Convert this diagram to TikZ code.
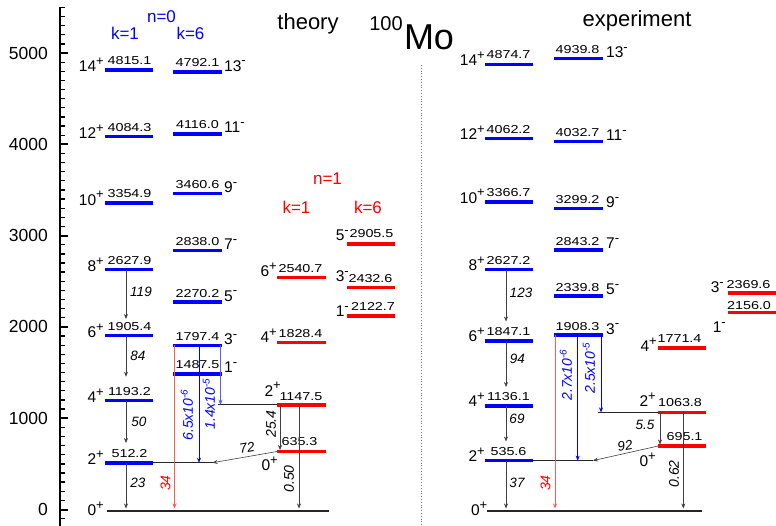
\documentclass[tikz,border=0pt]{standalone}
\usepackage{fontspec}
\setmainfont{Liberation Sans}
\usepackage{graphicx}
\usetikzlibrary{arrows.meta}
\definecolor{myblue}{RGB}{0,0,255}
\definecolor{myred}{RGB}{255,0,0}
\definecolor{lred}{RGB}{255,90,90}
\newcommand\Y[1]{509.5-0.0913*(#1)}
\newcommand\lvn[1]{\scalebox{1.25}[1]{\fontsize{11.5}{13}\selectfont #1}}
\newcommand\spn[2]{#1\raisebox{6.3pt}{\fontsize{13}{13}\selectfont #2}}
\tikzset{
  bbar/.style={line width=3.6pt, draw=myblue},
  rbar/.style={line width=3.6pt, draw=myred},
  gline/.style={line width=1.3pt, draw=black!85},
  tr/.style={draw=black!75, line width=0.6pt, -{Stealth[length=5pt,width=4pt]}},
  trr/.style={draw=lred, line width=0.6pt, -{Stealth[length=5pt,width=4pt]}},
  trb/.style={draw=myblue, line width=0.6pt, -{Stealth[length=5pt,width=4pt]}},
  trlb/.style={draw=myblue!65, line width=0.7pt, -{Stealth[length=5pt,width=4pt]}},
  num/.style={anchor=base, inner sep=0pt},
  spl/.style={anchor=base east, inner sep=0pt, font=\fontsize{15.5}{17}\selectfont},
  spr/.style={anchor=base west, inner sep=0pt, font=\fontsize{15.5}{17}\selectfont},
  tlab/.style={inner sep=0pt, font=\fontsize{13.5}{15}\selectfont\itshape},
  rlab/.style={inner sep=0pt, rotate=90, font=\fontsize{14}{15}\selectfont\itshape},
  big/.style={anchor=base, inner sep=0pt, font=\fontsize{22}{24}\selectfont},
  kl/.style={anchor=base, inner sep=0pt, font=\fontsize{17}{19}\selectfont},
}
\begin{document}
\begin{tikzpicture}[x=1pt,y=-1pt]
\useasboundingbox (0,0) rectangle (776,526);
% axis
\draw[line width=2pt] (60,7) -- (60,526);
\foreach \e in {-100,0,100,...,5500}{
  \draw[line width=1.3pt] (60,{\Y{\e}}) -- (65,{\Y{\e}});
}
\foreach \e in {0,1000,...,5000}{
  \draw[line width=2pt] (60,{\Y{\e}}) -- (68,{\Y{\e}});
  \node[anchor=east, inner sep=0pt, font=\fontsize{17.5}{19}\selectfont] (ax\e) at (48,{\Y{\e}}) {\e};
}
% separator
\coordinate (sepT) at (421,65);
\coordinate (sepB) at (421,526);
\draw[gray, dotted, line width=0.8pt] (sepT) -- (sepB);
% titles
\node[big] (theo) at (308,29.3) {theory};
\node[big] (expt) at (637,26.7) {experiment};
\node[anchor=base, inner sep=0pt, font=\fontsize{20}{22}\selectfont] (amass) at (386,30.5) {100};
\node[anchor=base, inner sep=0pt, font=\fontsize{36}{38}\selectfont] (elem) at (429,50) {Mo};
\node[kl, text=myblue] (n0) at (161.5,22.7) {n=0};
\node[kl, text=myblue] (k1b) at (125,39.3) {k=1};
\node[kl, text=myblue] (k6b) at (190.5,39.3) {k=6};
\node[kl, text=myred] (n1) at (327.5,185) {n=1};
\node[kl, text=myred] (k1r) at (296.5,213.3) {k=1};
\node[kl, text=myred] (k6r) at (368,213.3) {k=6};

% ---------------- theory ----------------
\foreach \E/\J in {4815.1/14, 4084.3/12, 3354.9/10, 2627.9/8, 1905.4/6, 1193.2/4, 512.2/2}{
  \draw[bbar] (105,{\Y{\E}}) -- (153,{\Y{\E}});
  \node[num] (tna\J) at (129.5,{\Y{\E}-5.3}) {\lvn{\E}};
  \node[spl] (tsa\J) at (104,{\Y{\E}+2}) {\spn{\J}{+}};
}
\foreach \E/\J in {4792.1/13, 4116.0/11, 3460.6/9, 2838.0/7, 2270.2/5, 1797.4/3, 1487.5/1}{
  \draw[bbar] (173,{\Y{\E}}) -- (222,{\Y{\E}});
  \node[num] (tnb\J) at (197.5,{\Y{\E}-5.2}) {\lvn{\E}};
  \node[spr] (tsb\J) at (224,{\Y{\E}-1}) {\spn{\J}{-}};
}
% red n=1 k=1
\foreach \E/\J/\dy in {2540.7/6/-1, 1828.4/4/0}{
  \draw[rbar] (277,{\Y{\E}}) -- (326,{\Y{\E}});
  \node[num] (tnc\J) at (300.5,{\Y{\E}-5}) {\lvn{\E}};
  \node[spl] (tsc\J) at (277,{\Y{\E}+\dy}) {\spn{\J}{+}};
}
\draw[rbar] (277,{\Y{1147.5}}) -- (326,{\Y{1147.5}});
\node[num] (tnc2) at (301,400) {\lvn{1147.5}};
\node[spl] (tsc2) at (281,396) {\spn{2}{+}};
\draw[rbar] (277,{\Y{635.3}}) -- (326,{\Y{635.3}});
\node[num] (tnc0) at (299.5,445) {\lvn{635.3}};
\node[spl] (tsc0) at (278,470.7) {\spn{0}{+}};
% red n=1 k=6
\foreach \E/\J/\dy/\dn/\cx in {2905.5/5/-3.5/-6.5/371.5, 2432.6/3/-5.7/-4.7/370.5, 2122.7/1/1/-5/373}{
  \draw[rbar] (347,{\Y{\E}}) -- (395,{\Y{\E}});
  \node[num] (tnd\J) at (\cx,{\Y{\E}+\dn}) {\lvn{\E}};
  \node[spl] (tsd\J) at (349,{\Y{\E}+\dy}) {\spn{\J}{-}};
}
% ground theory
\coordinate (tgL) at (107,511);
\coordinate (tgR) at (329,511);
\draw[gline] (tgL) -- (tgR);
\node[spl] (tsg) at (104,515.7) {\spn{0}{+}};
% extension lines theory
\coordinate (tx2a) at (153,{\Y{512.2}});
\coordinate (tx2b) at (212.5,{\Y{512.2}});
\draw[gline] (tx2a) -- (tx2b);
\coordinate (tx1a) at (218,{\Y{1147.5}});
\coordinate (tx1b) at (277,{\Y{1147.5}});
\draw[gline] (tx1a) -- (tx1b);
% theory transitions
\coordinate (ta1s) at (126,{\Y{2627.9}}); \coordinate (ta1e) at (126,319);
\coordinate (ta2s) at (126,{\Y{1905.4}}); \coordinate (ta2e) at (126,376.7);
\coordinate (ta3s) at (126,{\Y{1193.2}}); \coordinate (ta3e) at (126,443);
\coordinate (ta4s) at (126,{\Y{512.2}});  \coordinate (ta4e) at (126,508.5);
\draw[tr] (ta1s) -- (ta1e);
\draw[tr] (ta2s) -- (ta2e);
\draw[tr] (ta3s) -- (ta3e);
\draw[tr] (ta4s) -- (ta4e);
\node[tlab] (tl119) at (141,291.7) {119};
\node[tlab] (tl84) at (138,356) {84};
\node[tlab] (tl50) at (139,421.7) {50};
\node[tlab] (tl23) at (138,482.7) {23};
\coordinate (tr34s) at (174.5,{\Y{1797.4}}); \coordinate (tr34e) at (174.5,508.5);
\draw[trr] (tr34s) -- (tr34e);
\node[rlab, text=myred] (tl34) at (165.5,483) {34};
\coordinate (tb1s) at (199,{\Y{1797.4}}); \coordinate (tb1e) at (199,{\Y{512.2}});
\draw[trb] (tb1s) -- (tb1e);
\node[rlab, text=myblue] (tl65) at (187,415) {6.5x10\textsuperscript{-6}};
\coordinate (tb2s) at (220.5,{\Y{1797.4}}); \coordinate (tb2e) at (220.5,{\Y{1147.5}});
\draw[trlb] (tb2s) -- (tb2e);
\node[rlab, text=myblue] (tl14) at (209,404) {1.4x10\textsuperscript{-5}};
\coordinate (tc1s) at (280,{\Y{1147.5}}); \coordinate (tc1e) at (280,{\Y{635.3}-1.5});
\draw[tr] (tc1s) -- (tc1e);
\node[rlab] (tl254) at (271,424) {25.4};
\coordinate (tc2s) at (299,{\Y{1147.5}}); \coordinate (tc2e) at (299,508.5);
\draw[tr] (tc2s) -- (tc2e);
\node[rlab] (tl050) at (289,479) {0.50};
\coordinate (tc3s) at (277,{\Y{635.3}});
\draw[tr] (tc3s) -- (tx2b);
\node[tlab, rotate=10] (tl72) at (247,448) {72};

% ---------------- experiment ----------------
\foreach \E/\J in {4874.7/14, 4062.2/12, 3366.7/10, 2627.2/8, 1847.1/6, 1136.1/4, 535.6/2}{
  \draw[bbar] (485,{\Y{\E}}) -- (533,{\Y{\E}});
  \node[num] (ena\J) at (508.5,{\Y{\E}-5.5}) {\lvn{\E}};
  \node[spl] (esa\J) at (485,{\Y{\E}+1}) {\spn{\J}{+}};
}
\foreach \E/\J in {4939.8/13, 4032.7/11, 3299.2/9, 2843.2/7, 2339.8/5, 1908.3/3}{
  \draw[bbar] (554,{\Y{\E}}) -- (603,{\Y{\E}});
  \node[num] (enb\J) at (577.5,{\Y{\E}-4.8}) {\lvn{\E}};
  \node[spr] (esb\J) at (606,{\Y{\E}-1}) {\spn{\J}{-}};
}
% red experiment
\draw[rbar] (658,{\Y{1771.4}}) -- (706,{\Y{1771.4}});
\node[num] (enc4) at (679.5,342.7) {\lvn{1771.4}};
\node[spl] (esc4) at (657,351.7) {\spn{4}{+}};
\draw[rbar] (658,{\Y{1063.8}}) -- (706,{\Y{1063.8}});
\node[num] (enc2) at (680,406.7) {\lvn{1063.8}};
\node[spl] (esc2) at (656,406.7) {\spn{2}{+}};
\draw[rbar] (658,{\Y{695.1}}) -- (706,{\Y{695.1}});
\node[num] (enc0) at (684.5,440) {\lvn{695.1}};
\node[spl] (esc0) at (656,466.7) {\spn{0}{+}};
\draw[rbar] (728,{\Y{2369.6}}) -- (776,{\Y{2369.6}});
\node[num] (end3) at (748.5,288.3) {\lvn{2369.6}};
\node[spl] (esd3) at (724,292.7) {\spn{3}{-}};
\draw[rbar] (728,{\Y{2156.0}}) -- (776,{\Y{2156.0}});
\node[num] (end1) at (749,310) {\lvn{2156.0}};
\node[spl] (esd1) at (726,333) {\spn{1}{-}};
% ground experiment
\coordinate (egL) at (487,511);
\coordinate (egR) at (702,511);
\draw[gline] (egL) -- (egR);
\node[spl] (esg) at (487.5,515.7) {\spn{0}{+}};
% extension lines experiment
\coordinate (ex2a) at (533,{\Y{535.6}});
\coordinate (ex2b) at (593,{\Y{535.6}});
\draw[gline] (ex2a) -- (ex2b);
\coordinate (ex1a) at (598,{\Y{1063.8}});
\coordinate (ex1b) at (658,{\Y{1063.8}});
\draw[gline] (ex1a) -- (ex1b);
% experiment transitions
\coordinate (ea1s) at (506,{\Y{2627.2}}); \coordinate (ea1e) at (506,321.5);
\coordinate (ea2s) at (506,{\Y{1847.1}}); \coordinate (ea2e) at (506,387);
\coordinate (ea3s) at (506,{\Y{1136.1}}); \coordinate (ea3e) at (506,441.5);
\coordinate (ea4s) at (506,{\Y{535.6}});  \coordinate (ea4e) at (506,508.5);
\draw[tr] (ea1s) -- (ea1e);
\draw[tr] (ea2s) -- (ea2e);
\draw[tr] (ea3s) -- (ea3e);
\draw[tr] (ea4s) -- (ea4e);
\node[tlab] (el123) at (521,292.7) {123};
\node[tlab] (el94) at (517.3,359.3) {94};
\node[tlab] (el69) at (517,419.3) {69};
\node[tlab] (el37) at (517,483.3) {37};
\coordinate (er34s) at (555,{\Y{1908.3}}); \coordinate (er34e) at (555,508.5);
\draw[trr] (er34s) -- (er34e);
\node[rlab, text=myred] (el34) at (545.5,483) {34};
\coordinate (eb1s) at (577.7,{\Y{1908.3}}); \coordinate (eb1e) at (577.7,{\Y{535.6}});
\draw[trb] (eb1s) -- (eb1e);
\node[rlab, text=myblue] (el27) at (566,375) {2.7x10\textsuperscript{-6}};
\coordinate (eb2s) at (601,{\Y{1908.3}}); \coordinate (eb2e) at (601,{\Y{1063.8}});
\draw[trb] (eb2s) -- (eb2e);
\node[rlab, text=myblue] (el25) at (589,368) {2.5x10\textsuperscript{-5}};
\coordinate (ec1s) at (660,{\Y{1063.8}}); \coordinate (ec1e) at (660,{\Y{695.1}-1.5});
\draw[tr] (ec1s) -- (ec1e);
\node[tlab] (el55) at (645,425) {5.5};
\coordinate (ec2s) at (683.3,{\Y{1063.8}}); \coordinate (ec2e) at (683.3,508.5);
\draw[tr] (ec2s) -- (ec2e);
\node[rlab] (el062) at (674,474) {0.62};
\coordinate (ec3s) at (658,{\Y{695.1}});
\draw[tr] (ec3s) -- (ex2b);
\node[tlab, rotate=10] (el92) at (625,446) {92};
\end{tikzpicture}
\end{document}
